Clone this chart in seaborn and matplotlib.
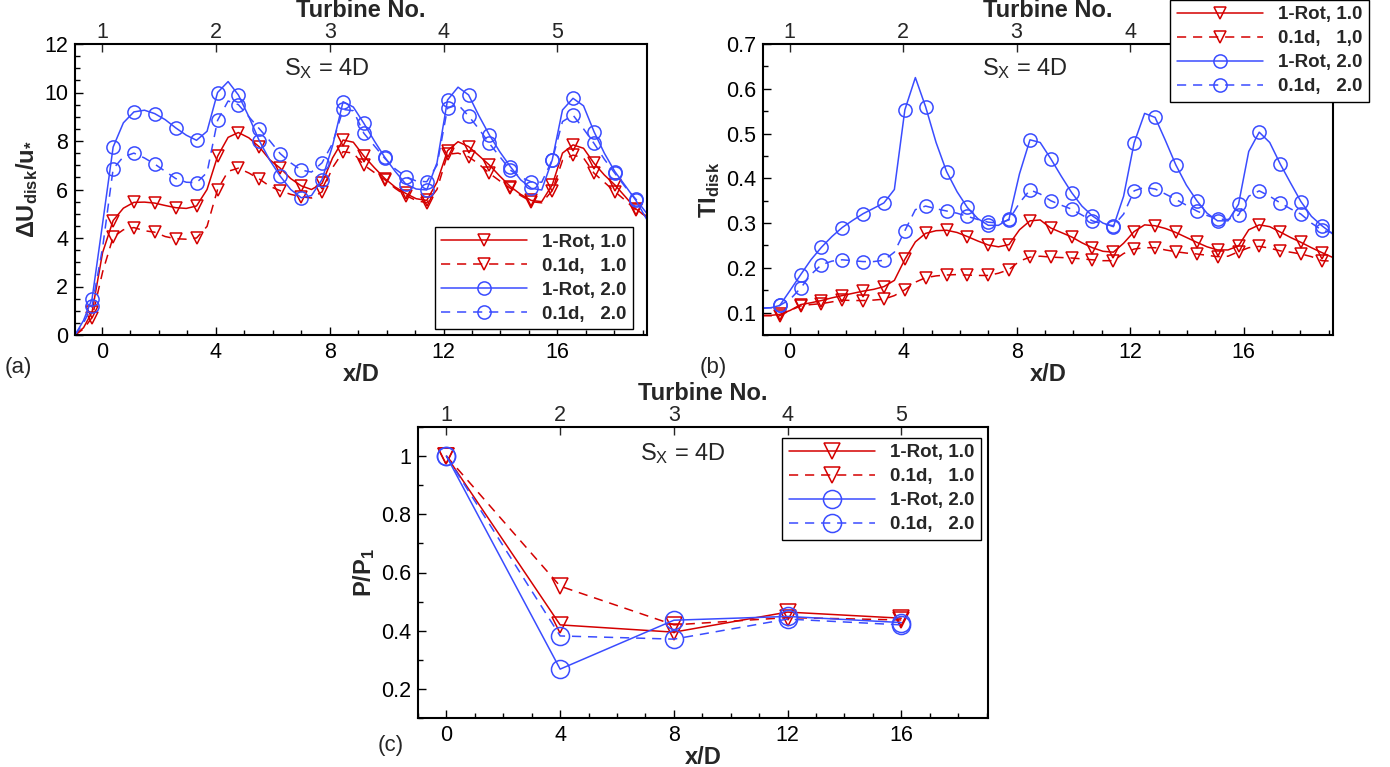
import matplotlib
matplotlib.use("Agg")
import matplotlib.pyplot as plt
import seaborn as sns
from matplotlib.lines import Line2D
from matplotlib.ticker import MultipleLocator

sns.set_theme(style="ticks")
plt.rcParams["font.family"] = ["Liberation Sans", "DejaVu Sans"]
plt.rcParams["mathtext.fontset"] = "custom"
plt.rcParams["mathtext.rm"] = "Liberation Sans"
plt.rcParams["mathtext.it"] = "Liberation Sans:italic"
plt.rcParams["mathtext.bf"] = "Liberation Sans:bold"

RED = "#d40000"
BLUE = "#3a4cff"

# streamwise positions x/D of the disk-averaged profiles (a, b)
x_prof = [-0.95, -0.65, -0.35, 0.02, 0.39, 0.75, 1.12, 1.49,
          1.85, 2.22, 2.59, 2.96, 3.32, 3.69, 4.06, 4.43,
          4.79, 5.16, 5.53, 5.90, 6.26, 6.63, 7.00, 7.36,
          7.73, 8.10, 8.47, 8.83, 9.20, 9.57, 9.94, 10.30,
          10.67, 11.04, 11.41, 11.77, 12.14, 12.51, 12.88, 13.24,
          13.61, 13.98, 14.35, 14.71, 15.08, 15.45, 15.82, 16.18,
          16.55, 16.92, 17.29, 17.65, 18.02, 18.39, 18.76, 19.15]

# (a) velocity deficit dU_disk / u*
du_rot_10 = [0.0, 0.3, 0.95, 3.4, 4.72, 5.23, 5.47, 5.48,
             5.44, 5.34, 5.25, 5.22, 5.32, 6.0, 7.37, 8.15,
             8.35, 8.13, 7.75, 7.22, 6.88, 6.45, 6.15, 6.0,
             6.25, 7.3, 8.04, 7.95, 7.38, 6.9, 6.45, 6.1,
             5.84, 5.62, 5.55, 6.3, 7.6, 7.97, 7.77, 7.4,
             7.01, 6.55, 6.12, 5.8, 5.55, 5.5, 6.19, 7.5,
             7.84, 7.7, 7.08, 6.6, 6.19, 5.7, 5.2, 4.85]
du_01d_10 = [0.0, 0.25, 0.72, 2.6, 4.04, 4.34, 4.43, 4.3,
             4.24, 4.06, 3.97, 3.95, 4.0, 4.48, 6.0, 6.75,
             6.88, 6.68, 6.43, 6.13, 5.95, 5.8, 5.7, 5.65,
             5.9, 6.9, 7.56, 7.5, 7.01, 6.7, 6.4, 6.05,
             5.75, 5.55, 5.45, 6.0, 7.45, 7.5, 7.35, 7.05,
             6.67, 6.35, 6.05, 5.75, 5.5, 5.45, 5.95, 7.2,
             7.42, 7.3, 6.67, 6.3, 5.91, 5.55, 5.15, 4.9]
du_rot_20 = [0.0, 0.6, 1.5, 4.6, 7.75, 8.75, 9.2, 9.27,
             9.13, 8.88, 8.54, 8.24, 8.03, 8.4, 10.0, 10.45,
             9.9, 9.0, 8.0, 7.2, 6.55, 6.0, 5.66, 5.75,
             6.41, 7.8, 9.62, 9.4, 8.73, 8.0, 7.32, 6.75,
             6.23, 6.02, 5.98, 7.1, 9.69, 10.22, 9.9, 9.05,
             8.25, 7.55, 6.94, 6.4, 6.05, 5.98, 7.22, 9.28,
             9.76, 9.45, 8.38, 7.5, 6.74, 6.15, 5.55, 4.75]
du_01d_20 = [0.0, 0.5, 1.2, 3.6, 6.85, 7.35, 7.5, 7.3,
             7.05, 6.75, 6.45, 6.3, 6.28, 6.7, 8.85, 9.65,
             9.5, 9.0, 8.5, 8.0, 7.48, 7.1, 6.8, 6.72,
             7.1, 7.9, 9.3, 9.25, 8.32, 7.8, 7.28, 6.85,
             6.53, 6.35, 6.32, 7.0, 9.35, 9.5, 9.03, 8.5,
             7.9, 7.35, 6.8, 6.5, 6.32, 6.3, 7.22, 8.8,
             9.07, 8.5, 7.9, 7.25, 6.67, 6.1, 5.6, 5.0]

# (b) disk-averaged turbulence intensity
ti_rot_10 = [0.094, 0.094, 0.096, 0.105, 0.118, 0.122, 0.127, 0.133,
             0.138, 0.143, 0.148, 0.152, 0.158, 0.172, 0.219, 0.258,
             0.277, 0.283, 0.284, 0.279, 0.27, 0.26, 0.251, 0.247,
             0.252, 0.285, 0.305, 0.307, 0.289, 0.279, 0.269, 0.256,
             0.245, 0.237, 0.235, 0.255, 0.281, 0.296, 0.294, 0.288,
             0.279, 0.268, 0.257, 0.247, 0.24, 0.24, 0.249, 0.285,
             0.296, 0.292, 0.28, 0.268, 0.257, 0.245, 0.234, 0.223]
ti_01d_10 = [0.093, 0.093, 0.093, 0.105, 0.115, 0.118, 0.12, 0.124,
             0.128, 0.127, 0.127, 0.128, 0.13, 0.138, 0.151, 0.168,
             0.178, 0.182, 0.184, 0.185, 0.184, 0.183, 0.183, 0.188,
             0.196, 0.215, 0.224, 0.226, 0.224, 0.223, 0.222, 0.22,
             0.218, 0.216, 0.216, 0.232, 0.242, 0.245, 0.245, 0.24,
             0.236, 0.233, 0.231, 0.228, 0.225, 0.226, 0.236, 0.245,
             0.248, 0.244, 0.238, 0.235, 0.231, 0.225, 0.216, 0.215]
ti_rot_20 = [0.11, 0.111, 0.116, 0.15, 0.185, 0.218, 0.246, 0.27,
             0.29, 0.306, 0.321, 0.333, 0.345, 0.375, 0.553, 0.625,
             0.56, 0.48, 0.415, 0.37, 0.335, 0.31, 0.295, 0.295,
             0.309, 0.41, 0.486, 0.48, 0.444, 0.405, 0.368, 0.338,
             0.316, 0.3, 0.292, 0.36, 0.479, 0.545, 0.536, 0.485,
             0.43, 0.385, 0.35, 0.322, 0.305, 0.305, 0.342, 0.46,
             0.503, 0.48, 0.432, 0.39, 0.348, 0.315, 0.294, 0.275]
ti_01d_20 = [0.11, 0.111, 0.116, 0.13, 0.155, 0.185, 0.207, 0.215,
             0.218, 0.216, 0.214, 0.214, 0.217, 0.235, 0.283, 0.33,
             0.338, 0.332, 0.327, 0.322, 0.315, 0.308, 0.302, 0.3,
             0.307, 0.345, 0.374, 0.365, 0.35, 0.34, 0.331, 0.318,
             0.305, 0.298, 0.294, 0.32, 0.372, 0.38, 0.376, 0.365,
             0.353, 0.34, 0.327, 0.317, 0.309, 0.308, 0.318, 0.36,
             0.372, 0.36, 0.345, 0.332, 0.32, 0.3, 0.284, 0.278]

# (c) power normalised by first turbine
x_turb = [0, 4, 8, 12, 16]
turb_labels = ["1", "2", "3", "4", "5"]
p_rot_10 = [1.0, 0.42, 0.395, 0.464, 0.443]
p_01d_10 = [1.0, 0.553, 0.42, 0.445, 0.437]
p_rot_20 = [1.0, 0.268, 0.436, 0.449, 0.428]
p_01d_20 = [1.0, 0.382, 0.371, 0.44, 0.42]

labels = ["1-Rot, 1.0", "0.1d,   1.0", "1-Rot, 2.0", "0.1d,   2.0"]
labels_b = ["1-Rot, 1.0", "0.1d,   1,0", "1-Rot, 2.0", "0.1d,   2.0"]
styles = [(RED, "-", "v"), (RED, "--", "v"), (BLUE, "-", "o"), (BLUE, "--", "o")]
DASH = (6, 4.5)


def draw(ax, x, y, color, ls, marker, ms, every):
    sns.lineplot(x=x, y=y, ax=ax, color=color, linewidth=1.1,
                 marker=marker, markersize=ms, markerfacecolor="none",
                 markeredgecolor=color, markeredgewidth=1.1,
                 markevery=every, sort=False, estimator=None)
    line = ax.lines[-1]
    if ls == "--":
        line.set_dashes(DASH)


def make_legend(ax, labs, anchor, ms_tri, ms_circ):
    handles = []
    for (c, ls, m) in styles:
        h = Line2D([], [], color=c, linewidth=1.1, marker=m,
                   markersize=ms_tri if m == "v" else ms_circ,
                   markerfacecolor="none", markeredgecolor=c,
                   markeredgewidth=1.1)
        if ls == "--":
            h.set_dashes(DASH)
        handles.append(h)
    leg = ax.legend(handles, labs, loc="upper right", bbox_to_anchor=anchor,
                    borderaxespad=0, fancybox=False, framealpha=1,
                    edgecolor="black", prop={"weight": "bold", "size": 13.5},
                    handlelength=4.6, handletextpad=0.8, labelspacing=0.36,
                    borderpad=0.35, numpoints=1)
    leg.get_frame().set_linewidth(1.0)
    leg.set_zorder(10)


def style_axes(ax, xlim, ylim, ymaj, ymin, ylabels=None):
    ax.set_xlim(*xlim)
    ax.set_ylim(*ylim)
    ax.set_xticks(x_turb)
    ax.xaxis.set_minor_locator(MultipleLocator(1))
    ax.yaxis.set_major_locator(MultipleLocator(ymaj))
    ax.yaxis.set_minor_locator(MultipleLocator(ymin))
    if ylabels is not None:
        ax.set_yticks(ylabels[0], labels=ylabels[1])
    ax.tick_params(which="both", direction="in", top=False, right=False,
                   labelsize=15.5, width=1.0, color="black", labelcolor="black")
    ax.tick_params(which="major", length=6, pad=5)
    ax.tick_params(which="minor", length=3.5)
    for s in ax.spines.values():
        s.set_linewidth(1.5)
        s.set_color("black")
    ax.set_xlabel("x/D", fontsize=17, fontweight="bold", labelpad=0)
    sec = ax.secondary_xaxis("top")
    sec.set_xticks(x_turb, labels=turb_labels)
    sec.tick_params(direction="in", length=6, width=1.0, labelsize=15.5, pad=1)
    sec.set_xlabel("Turbine No.", fontsize=17, fontweight="bold", labelpad=3)
    ax.set_facecolor("white")


fig = plt.figure(figsize=(13.9, 7.67), dpi=100)
fig.patch.set_facecolor("white")
W, H = 1390, 767
ax_a = fig.add_axes([75 / W, 1 - 335 / H, 572 / W, 291 / H])
ax_b = fig.add_axes([763 / W, 1 - 335 / H, 570 / W, 291 / H])
ax_c = fig.add_axes([418 / W, 1 - 718 / H, 570 / W, 291 / H])

every = slice(2, 55, 2)

# (a)
for y, (c, ls, m) in zip([du_rot_10, du_01d_10, du_rot_20, du_01d_20], styles):
    draw(ax_a, x_prof, y, c, ls, m, 8.5 if m == "v" else 9.5, every)
style_axes(ax_a, (-0.95, 19.15), (0, 12), 2, 0.5)
ax_a.set_ylabel(r"$\mathbf{\Delta U_{disk}/u_{*}}$", fontsize=17, labelpad=3)
ax_a.text(0.44, 0.915, r"S$_\mathregular{X}$ = 4D", transform=ax_a.transAxes,
          fontsize=17, ha="center", va="center")
make_legend(ax_a, labels, (0.976, 0.37), 8.5, 9.5)

# (b)
for y, (c, ls, m) in zip([ti_rot_10, ti_01d_10, ti_rot_20, ti_01d_20], styles):
    draw(ax_b, x_prof, y, c, ls, m, 8.5 if m == "v" else 9.5, every)
style_axes(ax_b, (-0.94, 19.15), (0.05, 0.7), 0.1, 0.05,
           ([0.1, 0.2, 0.3, 0.4, 0.5, 0.6, 0.7],
            ["0.1", "0.2", "0.3", "0.4", "0.5", "0.6", "0.7"]))
ax_b.set_ylabel(r"$\mathbf{TI_{disk}}$", fontsize=17, labelpad=3)
ax_b.text(0.46, 0.915, r"S$_\mathregular{X}$ = 4D", transform=ax_b.transAxes,
          fontsize=17, ha="center", va="center")
make_legend(ax_b, labels_b, (1.063, 1.152), 8.5, 9.5)

# (c)
for y, (c, ls, m) in zip([p_rot_10, p_01d_10, p_rot_20, p_01d_20], styles):
    draw(ax_c, x_turb, y, c, ls, m, 12 if m == "v" else 13, None)
style_axes(ax_c, (-1.0, 19.05), (0.1, 1.1), 0.2, 0.1,
           ([0.2, 0.4, 0.6, 0.8, 1.0], ["0.2", "0.4", "0.6", "0.8", "1"]))
ax_c.set_ylabel(r"$\mathbf{P/P_{1}}$", fontsize=17, labelpad=3)
ax_c.text(0.465, 0.91, r"S$_\mathregular{X}$ = 4D", transform=ax_c.transAxes,
          fontsize=17, ha="center", va="center")
make_legend(ax_c, labels, (0.988, 0.963), 12, 13)

fig.text(5 / W, 1 - 367 / H, "(a)", fontsize=16, va="center", ha="left")
fig.text(700 / W, 1 - 367 / H, "(b)", fontsize=16, va="center", ha="left")
fig.text(378 / W, 1 - 746 / H, "(c)", fontsize=16, va="center", ha="left")

fig.savefig("out.png", dpi=100, facecolor="white")
